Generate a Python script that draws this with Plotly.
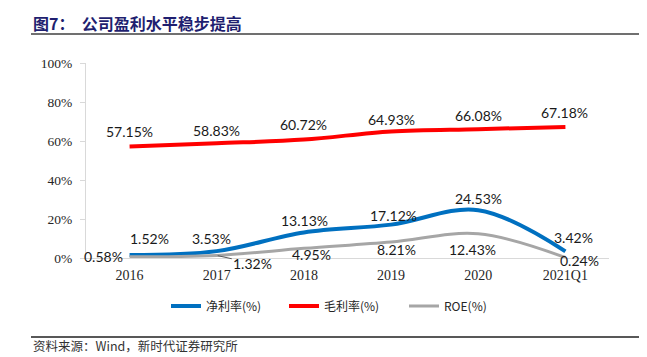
import plotly.graph_objects as go

categories = ["2016", "2017", "2018", "2019", "2020", "2021Q1"]
net_margin = [1.52, 3.53, 13.13, 17.12, 24.53, 3.42]
gross_margin = [57.15, 58.83, 60.72, 64.93, 66.08, 67.18]
roe = [0.58, 1.32, 4.95, 8.21, 12.43, 0.24]
y_ticks = [0, 20, 40, 60, 80, 100]
y_tick_labels = ["0%", "20%", "40%", "60%", "80%", "100%"]

# label offsets in pixels (dx, dy with dy up-positive)
net_off = [(20, 17), (-5, 13), (1, 12), (2, 9), (0, 12), (8, 14)]
gross_off = [(0, 15), (0, 13), (0, 15), (0, 12), (0, 14), (-1, 15)]
roe_off = [(-26, 0), (36, -8), (8, -6), (5, -8), (-6, -16), (14, -3)]

# page body has an 8px margin; work in reference pixels and convert
OFF = 8
W, H = 647 - OFF, 357 - OFF
PX0, PX1, PY0, PY1 = 86, 609, 63, 258  # plot area in reference pixels
L, R, T, B = PX0 - OFF, W - (PX1 - OFF), PY0 - OFF, H - (PY1 - OFF)
pw, ph = PX1 - PX0, PY1 - PY0


def px(x):
    return (x - PX0) / pw


def py(y):
    return (PY1 - y) / ph


fig = go.Figure()
series = [
    ("净利率(%)", net_margin, "#0070C0", 4, "legend", 166),
    ("毛利率(%)", gross_margin, "#FF0000", 4, "legend2", 284),
    ("ROE(%)", roe, "#A6A6A6", 3, "legend3", 404),
]
legend_font = dict(family="Noto Sans CJK SC", size=12, color="#262626")
legends = {}
for name, vals, color, w, lg, lx in series:
    fig.add_trace(go.Scatter(
        x=categories, y=vals, mode="lines", name=name, legend=lg,
        line=dict(color=color, width=w, shape="spline", smoothing=1.0),
        hoverinfo="skip",
    ))
    legends[lg] = dict(
        orientation="h", x=px(lx), y=py(306), xanchor="left", yanchor="middle",
        font=legend_font, itemwidth=30, bgcolor="rgba(0,0,0,0)",
    )

label_font = dict(family="Lato, 'Open Sans', sans-serif", size=14, color="#1a1a1a")
annotations = []
for key, vals, offs in [("net", net_margin, net_off), ("gross", gross_margin, gross_off), ("roe", roe, roe_off)]:
    for i, v in enumerate(vals):
        dx, dy = offs[i]
        if key == "roe" and i == 1:
            annotations.append(dict(
                x=i, y=v, xref="x", yref="y", text=f"{v:.2f}%",
                showarrow=True, arrowhead=0, arrowwidth=1, arrowcolor="#595959",
                ax=dx, ay=-dy, standoff=1, font=label_font,
                xanchor="center", yanchor="middle",
            ))
        else:
            annotations.append(dict(
                x=i, y=v, xref="x", yref="y", text=f"{v:.2f}%",
                showarrow=False, xshift=dx, yshift=dy, font=label_font,
                xanchor="center", yanchor="middle",
            ))

# title and source
annotations.append(dict(
    x=px(31), y=py(23), xref="paper", yref="paper",
    text="<b>图7：  公司盈利水平稳步提高</b>", showarrow=False,
    xanchor="left", yanchor="middle",
    font=dict(family="Noto Sans CJK SC", size=16, color="#1F1F70"),
))
annotations.append(dict(
    x=px(32), y=py(356), xref="paper", yref="paper",
    text="资料来源：Wind，新时代证券研究所", showarrow=False,
    xanchor="left", yanchor="bottom", borderpad=0,
    font=dict(family="Noto Sans CJK SC", size=12.5, color="#333333"),
))

shapes = [
    dict(type="line", xref="paper", yref="paper",
         x0=px(31), x1=px(639), y0=py(34), y1=py(34),
         line=dict(color="#404040", width=1.5)),
    dict(type="line", xref="paper", yref="paper",
         x0=px(31), x1=px(639), y0=py(337), y1=py(337),
         line=dict(color="#202020", width=1.5)),
]

fig.update_layout(
    width=W, height=H,
    margin=dict(l=L, r=R, t=T, b=B, pad=0, autoexpand=False),
    paper_bgcolor="white", plot_bgcolor="white",
    showlegend=True,
    annotations=annotations,
    shapes=shapes,
    xaxis=dict(
        type="category", range=[-0.5, 5.5],
        showline=True, linecolor="#D9D9D9", linewidth=1,
        showgrid=False, zeroline=False, ticks="", ticklabelstandoff=4,
        tickfont=dict(family="Liberation Serif", size=14, color="#262626"),
        fixedrange=True,
    ),
    yaxis=dict(
        range=[0, 100], tickvals=y_ticks, ticktext=y_tick_labels,
        showline=True, linecolor="#D9D9D9", linewidth=1,
        ticks="outside", ticklen=5, tickcolor="#D9D9D9", ticklabelstandoff=5,
        showgrid=False, zeroline=False,
        tickfont=dict(family="Liberation Serif", size=13.5, color="#262626"),
        fixedrange=True,
    ),
    **legends,
)

fig.write_html("out.html")
